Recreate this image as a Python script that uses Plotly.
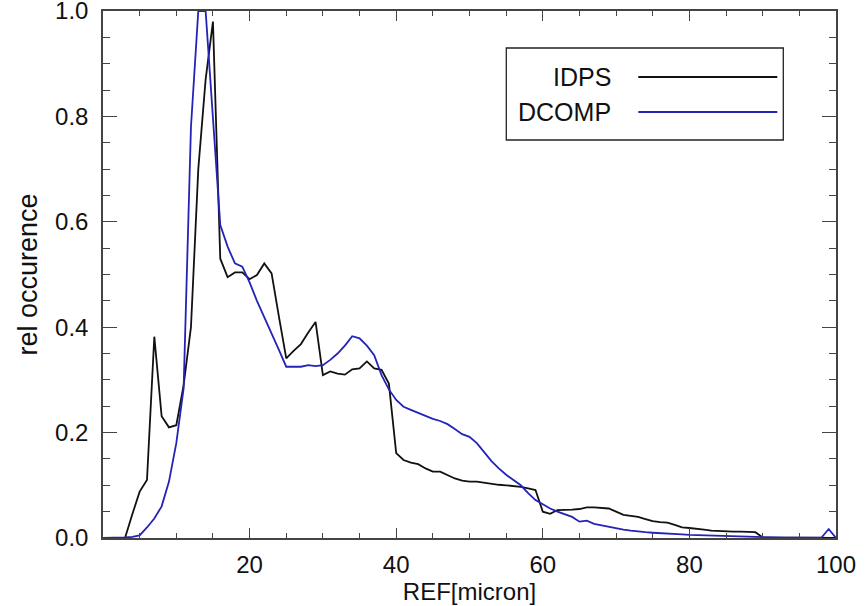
import plotly.graph_objects as go

ref_x = list(range(0, 101))

idps = [0.0, 0.0, 0.0, 0.0, 0.045, 0.088, 0.11, 0.382, 0.231, 0.21,
        0.214, 0.29, 0.40, 0.70, 0.87, 0.98, 0.53, 0.495, 0.504, 0.504,
        0.491, 0.499, 0.521, 0.502, 0.42, 0.341, 0.355, 0.368, 0.39, 0.41,
        0.309, 0.316, 0.312, 0.31, 0.32, 0.322, 0.335, 0.322, 0.319, 0.293,
        0.161, 0.148, 0.143, 0.14, 0.132, 0.126, 0.126, 0.12, 0.113, 0.109,
        0.107, 0.107, 0.105, 0.102, 0.101, 0.10, 0.099, 0.097, 0.094, 0.091,
        0.05, 0.046, 0.053, 0.053, 0.054, 0.055, 0.058, 0.058, 0.057, 0.056,
        0.05, 0.044, 0.042, 0.040, 0.036, 0.032, 0.030, 0.029, 0.025, 0.020,
        0.019, 0.018, 0.016, 0.014, 0.013, 0.012, 0.012, 0.012, 0.012, 0.011,
        0.001, 0.0005, 0.0005, 0.0005, 0.0005, 0.0005, 0.0005, 0.0005, 0.0005, 0.0005,
        0.0]

dcomp = [0.0, 0.0, 0.0, 0.001, 0.002, 0.005, 0.02, 0.037, 0.06, 0.107,
         0.18, 0.284, 0.78, 1.0, 1.0, 0.8, 0.594, 0.553, 0.521, 0.515,
         0.485, 0.45, 0.42, 0.39, 0.357, 0.325, 0.325, 0.325, 0.328, 0.326,
         0.328, 0.338, 0.35, 0.365, 0.383, 0.379, 0.365, 0.347, 0.309, 0.282,
         0.262, 0.249, 0.243, 0.237, 0.232, 0.226, 0.222, 0.216, 0.207, 0.197,
         0.192, 0.18, 0.163, 0.146, 0.132, 0.12, 0.11, 0.10, 0.085, 0.072,
         0.064, 0.056, 0.05, 0.045, 0.04, 0.031, 0.033, 0.027, 0.024, 0.021,
         0.019, 0.016, 0.014, 0.012, 0.011, 0.010, 0.0095, 0.009, 0.008, 0.007,
         0.006, 0.0055, 0.005, 0.0045, 0.004, 0.0035, 0.003, 0.0025, 0.002, 0.0015,
         0.001, 0.0005, 0.0005, 0.0005, 0.0005, 0.0005, 0.0005, 0.0005, 0.0005, 0.017,
         0.0]

x_ticks = [20, 40, 60, 80, 100]
y_ticks = [0.0, 0.2, 0.4, 0.6, 0.8, 1.0]
series_names = ["IDPS", "DCOMP"]
series_colors = ["#111111", "#2323b8"]

FONT = "Liberation Sans, Arial, Helvetica, sans-serif"
AX = "#444444"

fig = go.Figure()
for name, vals, col in zip(series_names, [idps, dcomp], series_colors):
    fig.add_trace(go.Scatter(x=ref_x, y=vals, mode="lines", name=name,
                             line=dict(color=col, width=1.8), showlegend=False))

fig.update_layout(
    width=868, height=606,
    margin=dict(l=103, r=32, t=11, b=68),
    paper_bgcolor="white", plot_bgcolor="white",
    font=dict(family=FONT, size=24, color="#111111"),
)
fig.update_xaxes(
    range=[0, 100], tickvals=x_ticks, ticktext=[str(v) for v in x_ticks],
    ticks="inside", ticklen=10, tickwidth=1.3, tickcolor=AX,
    minor=dict(dtick=5, tick0=0, ticks="inside", ticklen=5, tickwidth=1.3, tickcolor=AX),
    showline=True, linecolor=AX, linewidth=1.5, mirror="ticks",
    showgrid=False, zeroline=False, automargin=False, ticklabeloverflow="allow",
    ticklabelstandoff=4,
    tickfont=dict(size=24),
    title=dict(text="REF[micron]", standoff=0, font=dict(size=24)),
)
fig.update_yaxes(
    range=[0, 1], tickvals=y_ticks, tickformat=".1f",
    ticks="inside", ticklen=14, tickwidth=1.3, tickcolor=AX,
    minor=dict(dtick=0.05, tick0=0, ticks="inside", ticklen=7, tickwidth=1.3, tickcolor=AX),
    showline=True, linecolor=AX, linewidth=1.5, mirror="ticks",
    showgrid=False, zeroline=False, automargin=False, ticklabeloverflow="allow",
    ticklabelstandoff=8,
    tickfont=dict(size=24),
    title=dict(text="rel occurence", standoff=10, font=dict(size=27)),
)

# legend box drawn manually (text left of the line sample, as in the original)
def px2x(px):
    return (px - 102.7) / 733.0

def py2y(py):
    return (538.0 - py) / 527.0

fig.add_shape(type="rect", xref="paper", yref="paper",
              x0=px2x(506), x1=px2x(783), y0=py2y(140), y1=py2y(48),
              line=dict(color="#222222", width=1.3), fillcolor="white")
for i, (name, col) in enumerate(zip(series_names, series_colors)):
    yc = py2y(77 + i * 35)
    fig.add_shape(type="line", xref="paper", yref="paper",
                  x0=px2x(638), x1=px2x(777), y0=yc, y1=yc,
                  line=dict(color=col, width=1.8))
    fig.add_annotation(xref="paper", yref="paper", x=px2x(613), y=yc,
                       text=name, showarrow=False, xanchor="right", yanchor="middle",
                       font=dict(size=25, color="#111111"))

fig.write_html("out.html", config={"displayModeBar": False},
               post_script="document.body.style.margin='0';document.body.style.overflow='hidden';")
